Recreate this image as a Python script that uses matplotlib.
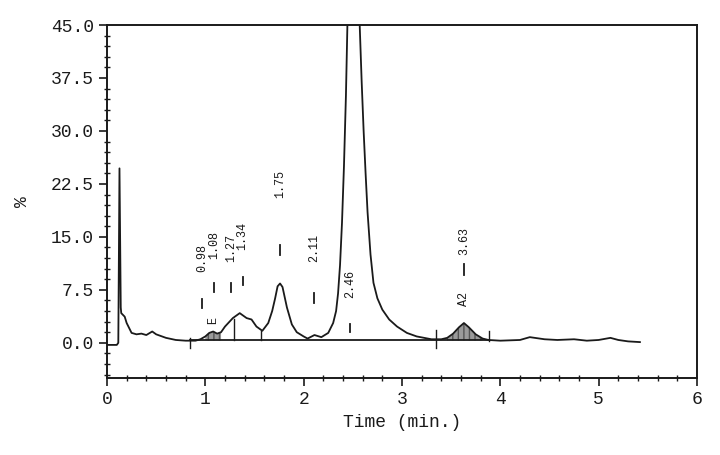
import numpy as np
from matplotlib import pyplot as plt

# trace (time in min, signal in %)
t = [0.00, 0.10, 0.115, 0.127, 0.14, 0.145, 0.18, 0.20, 0.25, 0.30, 0.35,
     0.40, 0.46, 0.50, 0.60, 0.70, 0.80, 0.90, 0.95, 1.00, 1.04, 1.08,
     1.12, 1.16, 1.20, 1.28, 1.35, 1.42, 1.47, 1.52, 1.58, 1.64, 1.68,
     1.71, 1.735, 1.76, 1.785, 1.83, 1.88, 1.93, 2.00, 2.04, 2.11, 2.18,
     2.25, 2.30, 2.33, 2.35, 2.37, 2.39, 2.41, 2.43, 2.445, 2.47, 2.51,
     2.55, 2.57, 2.59, 2.61, 2.63, 2.65, 2.68, 2.71, 2.75, 2.80, 2.87,
     2.95, 3.05, 3.15, 3.30, 3.40, 3.46, 3.52, 3.58, 3.63, 3.68, 3.75,
     3.82, 3.88, 4.00, 4.20, 4.30, 4.45, 4.58, 4.75, 4.88, 5.00, 5.12,
     5.20, 5.30, 5.42]
y = [-0.3, -0.3, 0.0, 24.7, 5.0, 4.2, 3.7, 2.8, 1.4, 1.2, 1.3,
     1.1, 1.6, 1.2, 0.7, 0.4, 0.3, 0.3, 0.5, 0.9, 1.4, 1.6,
     1.3, 1.5, 2.3, 3.5, 4.2, 3.5, 3.3, 2.3, 1.7, 2.8, 4.5,
     6.3, 8.0, 8.4, 7.9, 5.0, 2.6, 1.5, 0.9, 0.6, 1.1, 0.8,
     1.4, 2.8, 4.5, 7.0, 11.0, 17.0, 25.0, 35.0, 45.0, 58.0, 65.0,
     56.0, 45.0, 37.0, 30.0, 24.0, 18.5, 12.5, 8.5, 6.3, 4.7, 3.3,
     2.3, 1.4, 0.9, 0.5, 0.5, 0.7, 1.3, 2.2, 2.8, 2.2, 1.2,
     0.6, 0.4, 0.3, 0.4, 0.8, 0.5, 0.4, 0.5, 0.3, 0.4, 0.7,
     0.4, 0.2, 0.1]

# integration baseline and drop lines
base_t = [0.84, 3.88]
base_y = 0.35
drop_t = [1.29, 1.57]
drop_top = [3.4, 1.7]
mark_t = [0.84, 3.35, 3.88]
mark_lo = [-0.7, -0.8, 0.2]
mark_hi = [0.7, 1.8, 1.6]

# shaded (named) peaks
shade = [(1.00, 1.17), (3.46, 3.82)]

# peak labels: time, text, text bottom, dash bottom, dash top
lab_t = [0.97, 1.09, 1.26, 1.38, 1.76, 2.11, 2.47, 3.63]
lab_s = ['0.98', '1.08', '1.27', '1.34', '1.75', '2.11', '2.46', '3.63']
lab_y = [10.0, 11.8, 11.5, 13.2, 20.5, 11.5, 6.3, 12.5]
dash_lo = [4.9, 7.2, 7.2, 8.2, 12.4, 5.6, 1.5, 9.6]
dash_hi = [6.2, 8.5, 8.5, 9.3, 13.8, 7.0, 2.6, 11.2]
names = [(1.08, 'E', 2.6), (3.63, 'A2', 5.2)]

fnt = 'Liberation Mono'
ink = '#1a1a1a'

fig = plt.figure(figsize=(7.2, 4.55), dpi=100)
ax = fig.add_axes([0.1486, 0.169, 0.8194, 0.776])

ax.plot(t, y, color=ink, lw=1.3, clip_on=True)
ax.plot(base_t, [base_y, base_y], color=ink, lw=1.3)
for xt, top in zip(drop_t, drop_top):
    ax.plot([xt, xt], [base_y, top], color=ink, lw=1.0)
for xt, lo, hi in zip(mark_t, mark_lo, mark_hi):
    ax.plot([xt, xt], [lo, hi], color=ink, lw=1.0)

ta = np.array(t)
ya = np.array(y)
for a, b in shade:
    m = (ta >= a) & (ta <= b)
    ax.fill_between(ta[m], base_y, ya[m], facecolor='#9a9a9a',
                    edgecolor='#555555', hatch='|||', lw=0)

for xt, s, yb, lo, hi in zip(lab_t, lab_s, lab_y, dash_lo, dash_hi):
    ax.plot([xt, xt], [lo, hi], color=ink, lw=1.3)
    ax.text(xt, yb, s, rotation=90, ha='center', va='bottom',
            fontsize=8.5, family=fnt, color=ink)
for xt, s, yb in names:
    ax.text(xt, yb, s, rotation=90, ha='center', va='bottom',
            fontsize=8.5, family=fnt, color=ink)

ax.set_xlim(0, 6)
ax.set_ylim(-5, 45)
ax.set_xticks(range(7))
ax.set_xticks(np.arange(0, 6.01, 0.2), minor=True)
ax.set_yticks([0, 7.5, 15, 22.5, 30, 37.5, 45])
ax.set_yticklabels(['0.0', '7.5', '15.0', '22.5', '30.0', '37.5', '45.0'])
ax.set_yticks(np.arange(-4.5, 45.01, 1.5), minor=True)
ax.tick_params(which='major', direction='out', length=6, width=1.2,
               labelsize=13, colors=ink)
ax.tick_params(which='minor', direction='inout', length=4, width=1.0,
               colors=ink)
for lb in ax.get_xticklabels() + ax.get_yticklabels():
    lb.set_family(fnt)
for sp in ax.spines.values():
    sp.set_linewidth(1.4)
    sp.set_color(ink)

ax.set_xlabel('Time (min.)', family=fnt, fontsize=13, color=ink)
ax.set_ylabel('%', family=fnt, fontsize=13, color=ink, labelpad=14)

fig.savefig('out.png', dpi=100)
